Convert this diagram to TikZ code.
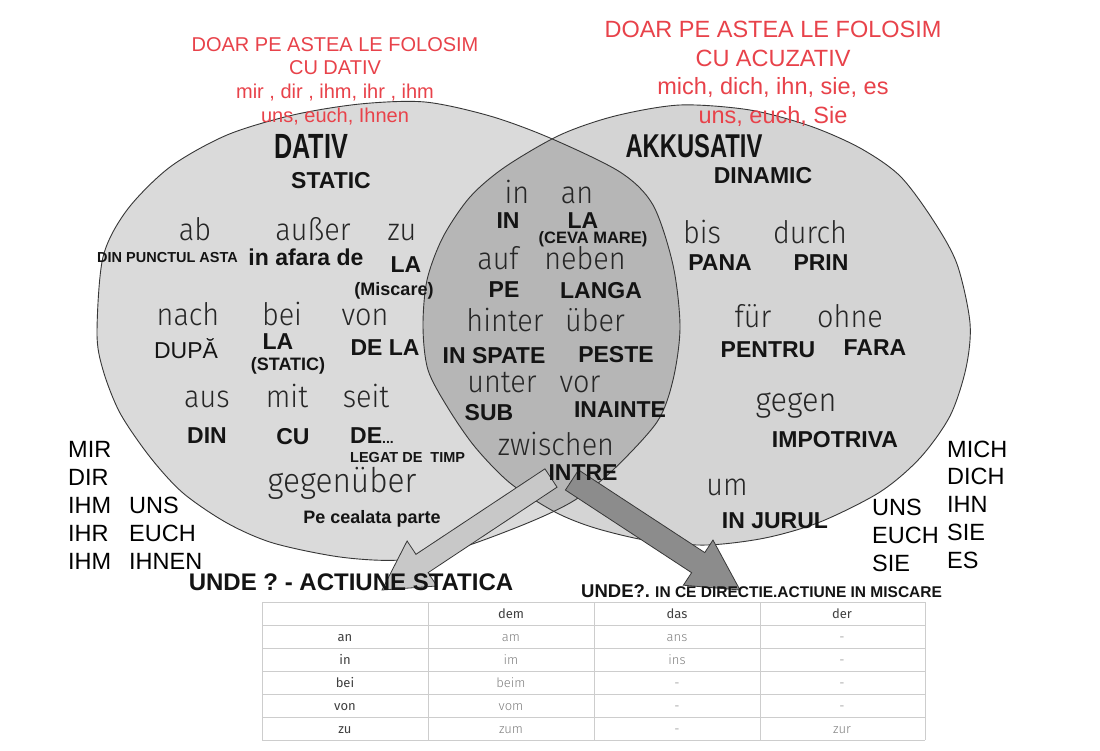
\documentclass[tikz,border=0pt]{standalone}
\usepackage{fontspec}
\setmainfont{Liberation Sans}
\newfontfamily\geofont[FakeStretch=0.93]{Fira Sans Light}
\newfontfamily\condfont[FakeStretch=0.72]{Liberation Sans}
\newfontfamily\tblfont{Fira Sans}
\newfontfamily\tbllight{Fira Sans Light}
\usetikzlibrary{calc}
\definecolor{redtxt}{RGB}{232,66,74}
\definecolor{fillL}{RGB}{218,218,218}
\definecolor{fillR}{RGB}{212,212,212}
\definecolor{fillM}{RGB}{182,182,182}
\definecolor{edgec}{RGB}{55,55,55}
\definecolor{arrL}{RGB}{200,200,200}
\definecolor{arrR}{RGB}{140,140,140}
\definecolor{tline}{RGB}{205,205,205}
\def\leftpath{plot[smooth cycle] coordinates {(97,333) (103,257) (127,210) (170,167) (227,135) (293,115) (360,104) (425,102) (490,116) (550,138) (620,172) (653,205) (673,265) (680,327) (673,380) (657,422) (613,470) (575,500) (530,522) (460,548) (400,560) (340,557) (273,543) (227,523) (183,493) (150,457) (120,413) (103,370)}}
\def\rightpath{plot[smooth cycle] coordinates {(423,327) (427,280) (443,237) (470,197) (505,167) (560,135) (615,116) (680,105) (750,110) (810,126) (860,148) (900,176) (933,220) (957,264) (970,323) (966,368) (950,416) (920,458) (880,492) (820,522) (765,538) (707,545) (650,541) (595,528) (555,512) (510,483) (475,447) (448,408) (428,370)}}
\tikzset{
  redl/.style={text=redtxt, font=\fontsize{20}{24}\selectfont, anchor=base, inner sep=0pt},
  redr/.style={text=redtxt, font=\fontsize{23.5}{28}\selectfont, anchor=base, inner sep=0pt},
  geo/.style={text=black!85, font=\geofont\fontsize{31}{36}\selectfont, anchor=base, inner sep=0pt},
  lab/.style={text=black!92, font=\bfseries\fontsize{23}{28}\selectfont, anchor=base, inner sep=0pt},
  labreg/.style={text=black!92, font=\fontsize{23}{28}\selectfont, anchor=base, inner sep=0pt},
  sml/.style={text=black!92, font=\bfseries\fontsize{18}{22}\selectfont, anchor=base, inner sep=0pt},
  tiny/.style={text=black!92, font=\bfseries\fontsize{14.5}{17}\selectfont, anchor=base west, inner sep=0pt},
  title/.style={text=black!92, font=\condfont\bfseries\fontsize{35}{40}\selectfont, anchor=base, inner sep=0pt},
  pron/.style={text=black, font=\fontsize{23.5}{28}\selectfont, anchor=base west, inner sep=0pt},
  bottom/.style={text=black!92, font=\bfseries\fontsize{24}{28}\selectfont, anchor=base, inner sep=0pt},
  thead/.style={text=black!75, font=\tblfont\fontsize{13}{15}\selectfont, anchor=base, inner sep=0pt},
  tcell/.style={text=black!50, font=\tbllight\fontsize{13}{15}\selectfont, anchor=base, inner sep=0pt},
  tgrid/.style={draw=tline, line width=0.8pt},
  blockL/.style={fill=arrL, draw=edgec, line width=0.8pt, line join=miter},
  blockR/.style={fill=arrR, draw=edgec, line width=0.8pt, line join=miter},
}
\begin{document}
\begin{tikzpicture}[x=1pt, y=-1pt]
\useasboundingbox[fill=white] (0,0) rectangle (1100,750);
% ellipses
\fill[fillL] \leftpath;
\fill[fillR] \rightpath;
\begin{scope}
  \clip \leftpath;
  \fill[fillM] \rightpath;
\end{scope}
\draw[edgec, line width=0.9pt] \leftpath;
\draw[edgec, line width=0.9pt] \rightpath;

% block arrows
\coordinate (s1) at (551,478);
\coordinate (t1) at (382,590);
\coordinate (h1) at ($(t1)!48pt!(s1)$);
\coordinate (s2) at (572,480);
\coordinate (t2) at (740,590);
\coordinate (h2) at ($(t2)!50pt!(s2)$);
\path[blockL] ($(s1)!11pt!90:(t1)$) -- ($(h1)!11pt!90:(t1)$) -- ($(h1)!27pt!90:(t1)$) -- (t1)
  -- ($(h1)!27pt!-90:(t1)$) -- ($(h1)!11pt!-90:(t1)$) -- ($(s1)!11pt!-90:(t1)$) -- cycle;
\path[blockR] ($(s2)!12pt!90:(t2)$) -- ($(h2)!12pt!90:(t2)$) -- ($(h2)!27pt!90:(t2)$) -- (t2)
  -- ($(h2)!27pt!-90:(t2)$) -- ($(h2)!12pt!-90:(t2)$) -- ($(s2)!12pt!-90:(t2)$) -- cycle;

% red texts
\node[redl] (rl1) at (335,51) {DOAR PE ASTEA LE FOLOSIM};
\node[redl] (rl2) at (335,74) {CU DATIV};
\node[redl] (rl3) at (335,98) {mir , dir , ihm, ihr , ihm};
\node[redl] (rl4) at (335,122) {uns, euch, Ihnen};
\node[redr] (rr1) at (773,37) {DOAR PE ASTEA LE FOLOSIM};
\node[redr] (rr2) at (773,66) {CU ACUZATIV};
\node[redr] (rr3) at (773,94) {mich, dich, ihn, sie, es};
\node[redr] (rr4) at (773,123) {uns, euch, Sie};

% titles
\node[title] (dativ) at (311,158) {DATIV};
\node[lab] (static) at (331,188) {STATIC};
\node[title, font=\condfont\bfseries\fontsize{33}{38}\selectfont] (akk) at (694,157) {AKKUSATIV};
\node[lab] (dinamic) at (763,183) {DINAMIC};

% dativ side
\node[geo] (ab) at (195,240) {ab};
\node[geo] (ausser) at (313,240) {außer};
\node[geo] (zu) at (402,240) {zu};
\node[tiny] (dinp) at (97,262) {DIN PUNCTUL ASTA};
\node[lab] (afara) at (306,265) {in afara de};
\node[lab] (la1) at (406,272) {LA};
\node[sml] (misc) at (394,295) {(Miscare)};
\node[geo] (nach) at (188,325) {nach};
\node[geo] (bei) at (282,325) {bei};
\node[geo] (von) at (365,325) {von};
\node[labreg] (dupa) at (186,358) {DUPĂ};
\node[lab] (la2) at (278,349) {LA};
\node[sml] (stat2) at (288,370) {(STATIC)};
\node[lab] (dela) at (385,355) {DE LA};
\node[geo] (aus) at (207,407) {aus};
\node[geo] (mit) at (287,407) {mit};
\node[geo] (seit) at (366,407) {seit};
\node[lab] (din) at (207,443) {DIN};
\node[lab] (cu) at (293,444) {CU};
\node[lab, anchor=base west] (de) at (350,443) {DE{\fontsize{14}{14}\selectfont...}};
\node[tiny] (legat) at (350,462) {LEGAT DE\ \ TIMP};
\node[geo, font=\geofont\fontsize{34}{40}\selectfont] (gegenueber) at (342,492) {gegenüber};
\node[sml] (cealalta) at (372,523) {Pe cealata parte};

% middle
\node[geo] (in) at (517,203) {in};
\node[geo] (an) at (577,203) {an};
\node[lab] (inR) at (508,228) {IN};
\node[lab] (laR) at (583,228) {LA};
\node[sml, font=\bfseries\fontsize{16.5}{20}\selectfont] (ceva) at (593,243) {(CEVA MARE)};
\node[geo] (auf) at (498,269) {auf};
\node[geo] (neben) at (585,269) {neben};
\node[lab] (pe) at (504,297) {PE};
\node[lab] (langa) at (601,298) {LANGA};
\node[geo] (hinter) at (505,331) {hinter};
\node[geo] (ueber) at (595,331) {über};
\node[lab] (inspate) at (494,363) {IN SPATE};
\node[lab] (peste) at (616,362) {PESTE};
\node[geo] (unter) at (502,392) {unter};
\node[geo] (vor) at (580,392) {vor};
\node[lab] (sub) at (489,420) {SUB};
\node[lab] (inainte) at (620,417) {INAINTE};
\node[geo] (zwischen) at (556,455) {zwischen};
\node[lab] (intre) at (583,480) {INTRE};

% akkusativ side
\node[geo] (bis) at (702,243) {bis};
\node[geo] (durch) at (810,243) {durch};
\node[lab] (pana) at (720,270) {PANA};
\node[lab] (prin) at (821,270) {PRIN};
\node[geo] (fuer) at (753,327) {für};
\node[geo] (ohne) at (850,327) {ohne};
\node[lab] (pentru) at (768,357) {PENTRU};
\node[lab] (fara) at (875,355) {FARA};
\node[geo, font=\geofont\fontsize{33}{38}\selectfont] (gegen) at (796,411) {gegen};
\node[lab] (impotriva) at (835,447) {IMPOTRIVA};
\node[geo] (um) at (727,495) {um};
\node[lab] (injurul) at (775,528) {IN JURUL};

% pronouns left
\node[pron] (mir) at (68,457) {MIR};
\node[pron] (dir) at (68,485) {DIR};
\node[pron] (ihm1) at (68,513) {IHM};
\node[pron] (ihr) at (68,541) {IHR};
\node[pron] (ihm2) at (68,569) {IHM};
\node[pron] (uns1) at (129,513) {UNS};
\node[pron] (euch1) at (129,541) {EUCH};
\node[pron] (ihnen) at (129,569) {IHNEN};
% pronouns right
\node[pron] (mich) at (947,457) {MICH};
\node[pron] (dich) at (947,484) {DICH};
\node[pron] (ihn) at (947,512) {IHN};
\node[pron] (sie1) at (947,540) {SIE};
\node[pron] (es) at (947,568) {ES};
\node[pron] (uns2) at (872,515) {UNS};
\node[pron] (euch2) at (872,543) {EUCH};
\node[pron] (sie2) at (872,571) {SIE};

% bottom labels
\node[bottom] (undeL) at (351,590) {UNDE ? - ACTIUNE STATICA};
\node[bottom, anchor=base west, font=\bfseries\fontsize{18.5}{22}\selectfont] (undeR) at (581,597) {UNDE?.};
\node[bottom, anchor=base west, font=\bfseries\fontsize{15.5}{19}\selectfont] (undeR2) at (655,597) {IN CE DIRECTIE.ACTIUNE IN MISCARE};

% table
\foreach \yy in {602,625,648,671,694,717,740} \draw[tgrid] (262,\yy) -- (925,\yy);
\foreach \xx in {262,428,594,760,925} \draw[tgrid] (\xx,602) -- (\xx,740);
\node[thead] (hdem) at (511,618) {dem};
\node[thead] (hdas) at (677,618) {das};
\node[thead] (hder) at (842,618) {der};
\foreach \r/\yy/\a/\b/\c in {an/641/am/ans/-, in/664/im/ins/-, bei/687/beim/-/-, von/710/vom/-/-, zu/733/zum/-/zur}{
  \node[thead] (r-\r) at (345,\yy) {\r};
  \node[tcell] (c1-\r) at (511,\yy) {\a};
  \node[tcell] (c2-\r) at (677,\yy) {\b};
  \node[tcell] (c3-\r) at (842,\yy) {\c};
}
\end{tikzpicture}
\end{document}
